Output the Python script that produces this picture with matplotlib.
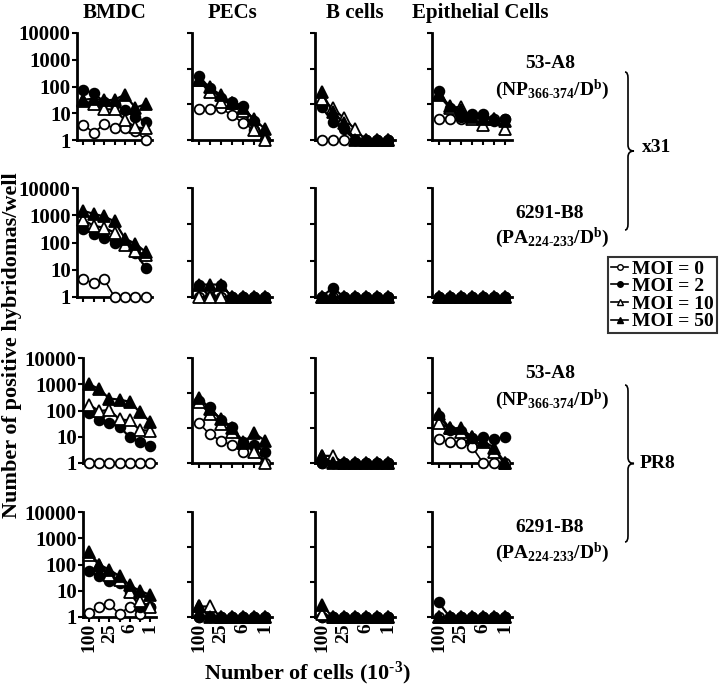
import matplotlib
matplotlib.use('Agg')
import matplotlib.pyplot as plt
from matplotlib.lines import Line2D
from matplotlib.path import Path
from matplotlib.patches import PathPatch
from matplotlib.ticker import NullLocator

plt.rcParams['font.family'] = 'Liberation Serif'
plt.rcParams['font.weight'] = 'bold'
plt.rcParams['mathtext.fontset'] = 'custom'
plt.rcParams['mathtext.rm'] = 'Liberation Serif:bold'
plt.rcParams['mathtext.it'] = 'Liberation Serif:bold'
plt.rcParams['mathtext.bf'] = 'Liberation Serif:bold'

# number of cells per well (x10^3), twofold dilutions
cells = [100, 50, 25, 12.5, 6.25, 3.125, 1.5625]
cell_labels = ['100', '', '25', '', '6', '', '1']
moi_labels = ['MOI = 0', 'MOI = 2', 'MOI = 10', 'MOI = 50']
cell_types = ['BMDC', 'PECs', 'B cells', 'Epithelial Cells']

# each panel: [MOI 0, MOI 2, MOI 10, MOI 50]
ones = [1, 1, 1, 1, 1, 1, 1]

# x31, 53-A8 (NP366-374/Db)
x31_np_bmdc = [[3.7, 1.9, 3.8, 2.8, 2.8, 2.2, 1],
               [77, 55, 27, 23, 13, 7.4, 4.8],
               [28, 23, 14, 14, 5.5, 3, 2.7],
               [32, 35, 30, 32, 50, 16, 22]]
x31_np_pec = [[7.3, 7.3, 7.7, 5, 3, 1.9, 1],
              [64, 28, 15, 12, 8.8, 3.4, 1],
              [47, 22, 12, 11, 6.5, 1.9, 1],
              [49, 30, 18, 11, 7.7, 3.8, 2]]
x31_np_bcell = [ones,
                [8.3, 3.2, 2, 1, 1, 1, 1],
                [14, 7.7, 4.1, 2, 1, 1, 1],
                [22, 6, 3, 1, 1, 1, 1]]
x31_np_epi = [[4, 4, 4, 4.3, 4.3, 3.8, 4],
              [23, 8, 4.5, 5.5, 5.5, 3.5, 4],
              [18, 8, 8.5, 4, 2.6, 4, 2],
              [20, 9, 7, 4.5, 4, 4, 3.5]]

# x31, 6291-B8 (PA224-233/Db)
x31_pa_bmdc = [[4.5, 3.2, 4.5, 1, 1, 1, 1],
               [320, 210, 150, 100, 90, 40, 12],
               [680, 410, 350, 230, 80, 50, 34],
               [1450, 1130, 900, 600, 140, 90, 45]]
x31_pa_pec = [ones,
              [2.2, 1, 2.2, 1, 1, 1, 1],
              ones,
              [2.2, 2.2, 2.2, 1, 1, 1, 1]]
x31_pa_bcell = [ones, [1, 1.8, 1, 1, 1, 1, 1], ones, ones]
x31_pa_epi = [ones, ones, ones, ones]

# PR8, 53-A8 (NP366-374/Db)
pr8_np_bmdc = [ones,
               [80, 42, 32, 24, 9.8, 6.2, 4.3],
               [165, 95, 105, 46, 42, 18, 17],
               [1020, 650, 285, 260, 216, 87, 38]]
pr8_np_pec = [[14, 6.6, 4.3, 3.3, 2.1, 3.3, 1],
              [60, 39, 17, 11, 4, 3.1, 2.1],
              [57, 25, 13, 7.5, 4, 2.1, 1],
              [73, 36, 18, 10, 3.8, 7.1, 4.3]]
pr8_np_bcell = [ones, ones,
                [1.6, 1.6, 1, 1, 1, 1, 1],
                [1.6, 1, 1, 1, 1, 1, 1]]
pr8_np_epi = [[4.8, 4, 3.8, 2.9, 1, 1, 1],
              [22, 9, 8, 5.2, 5.5, 4.8, 5.5],
              [14, 9.7, 7.5, 5.5, 4, 2, 1],
              [25, 9.7, 10, 5.5, 4.3, 2.7, 1]]

# PR8, 6291-B8 (PA224-233/Db)
pr8_pa_bmdc = [[1.4, 2.5, 3.0, 1.3, 2.5, 1.3, 2.5],
               [58, 36, 23, 19, 9, 2.5, 2.5],
               [230, 100, 40, 25, 9, 4, 2.5],
               [300, 100, 63, 36, 16, 10, 7]]
pr8_pa_pec = [ones, ones,
              [2, 2, 1, 1, 1, 1, 1],
              [2, 1, 1, 1, 1, 1, 1]]
pr8_pa_bcell = [ones, ones,
                [1.2, 1, 1, 1, 1, 1, 1],
                [2.2, 1, 1, 1, 1, 1, 1]]
pr8_pa_epi = [ones, [2.6, 1, 1, 1, 1, 1, 1], ones, ones]

panels = [[x31_np_bmdc, x31_np_pec, x31_np_bcell, x31_np_epi],
          [x31_pa_bmdc, x31_pa_pec, x31_pa_bcell, x31_pa_epi],
          [pr8_np_bmdc, pr8_np_pec, pr8_np_bcell, pr8_np_epi],
          [pr8_pa_bmdc, pr8_pa_pec, pr8_pa_bcell, pr8_pa_epi]]

styles = [dict(marker='o', mfc='white', mec='black', ms=7, lw=1.2),
          dict(marker='o', mfc='black', mec='black', ms=7, lw=1.6),
          dict(marker='^', mfc='white', mec='black', ms=8, lw=1.6),
          dict(marker='^', mfc='black', mec='black', ms=8, lw=1.6)]

W, H = 720, 688
fig = plt.figure(figsize=(W / 100, H / 100), dpi=100)


def px_axes(x0, y0, x1, y1):
    return fig.add_axes([x0 / W, 1 - y1 / H, (x1 - x0) / W, (y1 - y0) / H])


def fig_xy(x, y):
    return x / W, 1 - y / H


row_px = [(33, 140), (188, 297), (358, 463), (512, 617)]
col_px = [(77, 152), (192, 272), (315, 395), (432, 512)]

for r in range(4):
    for c in range(4):
        x0, x1 = col_px[c]
        if c == 0 and r >= 2:
            x0, x1 = x0 + 6, x1 + 4
        y0, y1 = row_px[r]
        ax = px_axes(x0, y0, x1, y1)
        for k, series in enumerate(panels[r][c]):
            ax.plot(cells, series, color='black', mew=1.3, clip_on=False,
                    zorder=3 + k, **styles[k])
        ax.set_xscale('log')
        ax.set_yscale('log')
        ax.set_xlim(100 * 2 ** 0.6, 1.5625 / 2 ** 0.6)
        top = 10000 if c == 0 else 1000
        ax.set_ylim(1, top)
        ax.xaxis.set_minor_locator(NullLocator())
        ax.yaxis.set_minor_locator(NullLocator())
        ax.set_xticks(cells)
        if r == 3:
            ax.set_xticklabels(cell_labels, rotation=90, fontsize=14)
        else:
            ax.set_xticklabels([])
        yt = [1, 10, 100, 1000, 10000] if c == 0 else [1, 10, 100, 1000]
        ax.set_yticks(yt)
        if c == 0:
            ax.set_yticklabels([str(v) for v in yt], fontsize=15)
        else:
            ax.set_yticklabels([])
        for s in ['top', 'right']:
            ax.spines[s].set_visible(False)
        for s in ['left', 'bottom']:
            ax.spines[s].set_linewidth(2)
        ax.tick_params(direction='out', length=3.5, width=1.5, pad=1)
        ax.patch.set_alpha(0)

# column titles
for c, name in enumerate(cell_types):
    x = (col_px[c][0] + col_px[c][1]) / 2
    if c == 3:
        x += 8
    fig.text(*fig_xy(x, 13), name, ha='center', va='center', fontsize=15)

fig.text(*fig_xy(12, 345), 'Number of positive hybridomas/well', rotation=90,
         ha='center', va='center', fontsize=16)
fig.text(*fig_xy(307, 673), r'Number of cells (10$^{\text{-}3}$)',
         ha='center', va='center', fontsize=16)

# hybridoma labels
np_label = r'(NP$_{366\text{-}374}$/D$^{b}$)'
pa_label = r'(PA$_{224\text{-}233}$/D$^{b}$)'
for yA, yB in [(63, 213), (373, 528)]:
    fig.text(*fig_xy(550, yA), '53-A8', ha='center', va='center', fontsize=14)
    fig.text(*fig_xy(552, yA + 27), np_label, ha='center', va='center', fontsize=14)
    fig.text(*fig_xy(550, yB), '6291-B8', ha='center', va='center', fontsize=14)
    fig.text(*fig_xy(552, yB + 25), pa_label, ha='center', va='center', fontsize=14)


def brace(x, ytop, ybot, w=6):
    ym = (ytop + ybot) / 2
    pts = [(x - 3, ytop), (x, ytop), (x, ytop + 6),
           (x, ym - 6), (x, ym), (x + w, ym),
           (x, ym), (x, ym + 6),
           (x, ybot - 6), (x, ybot), (x - 3, ybot)]
    codes = [Path.MOVETO, Path.CURVE3, Path.CURVE3,
             Path.LINETO, Path.CURVE3, Path.CURVE3,
             Path.CURVE3, Path.CURVE3,
             Path.LINETO, Path.CURVE3, Path.CURVE3]
    verts = [fig_xy(px, py) for px, py in pts]
    fig.patches.append(PathPatch(Path(verts, codes), fill=False, lw=1.2,
                                 edgecolor='black', transform=fig.transFigure))


brace(628, 72, 230)
brace(628, 385, 542)
fig.text(*fig_xy(657, 148), 'x31', ha='center', va='center', fontsize=14)
fig.text(*fig_xy(658, 463), 'PR8', ha='center', va='center', fontsize=14)

handles = [Line2D([], [], color='black', lw=1.2, ms=4, mew=1, **{k: v for k, v in st.items() if k not in ('ms', 'lw')})
           for st in styles]
leg = fig.legend(handles, moi_labels, loc='upper left',
                 bbox_to_anchor=fig_xy(608, 257), frameon=True, fancybox=False,
                 edgecolor='black', fontsize=14, handlelength=0.9,
                 handletextpad=0.2, borderpad=0.15, labelspacing=0.0,
                 borderaxespad=0)
leg.get_frame().set_linewidth(1.5)

fig.savefig('out.png', dpi=100)
